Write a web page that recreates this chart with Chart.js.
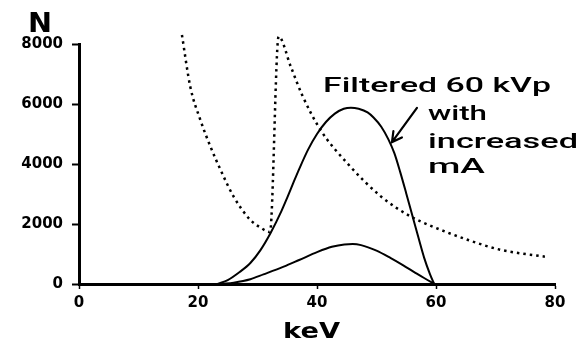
<!DOCTYPE html>
<html>
<head>
<meta charset="utf-8">
<script src="https://cdn.jsdelivr.net/npm/chart.js@4"></script>
<style>
  html, body { margin: 0; padding: 0; background: #fff; }
  #wrap { width: 587px; height: 345px; }
</style>
</head>
<body>
<div id="wrap"><canvas id="spectrum"></canvas></div>
<script>
// Energy spectrum chart

// Axis tick settings
const xTickStep = 20;
const yTickStep = 2000;
const xMin = 0, xMax = 80;
const yMin = 0, yMax = 8000;

// Filtered 60 kVp with increased mA (big solid curve)
const bigKeV = [23.3, 25, 27, 28.8, 30.5, 32.2, 34, 35, 36, 37, 38.5, 40, 41.5, 43, 44.5, 45.7, 47, 48.5, 49.5, 50.8, 52, 53, 54, 55, 56, 57, 58, 59, 59.7];
const bigN   = [0, 130, 400, 700, 1130, 1700, 2420, 2880, 3360, 3830, 4480, 5000, 5400, 5680, 5840, 5877, 5840, 5720, 5550, 5243, 4820, 4360, 3720, 3020, 2300, 1580, 880, 320, 0];

// Original filtered 60 kVp spectrum (small solid curve)
const smallKeV = [24, 26, 28.8, 31, 34.4, 37, 40.1, 42.5, 44.6, 46, 47.4, 50, 52.4, 54.5, 56.4, 58, 59.8];
const smallN   = [0, 45, 160, 320, 577, 800, 1070, 1240, 1320, 1330, 1295, 1110, 860, 620, 390, 200, 0];

// Attenuation curve with K-edge (dotted)
const edgeKeV = [17.3, 18.7, 20.4, 22.1, 23.8, 26, 28.8, 30.5, 32.1, 33.55, 35.6, 37.5, 40.6, 45.1, 50.8, 55.8, 59, 65.4, 71, 78.3];
const edgeN   = [8300, 6577, 5467, 4577, 3800, 2910, 2133, 1880, 1730, 8250, 7243, 6300, 5133, 4023, 2910, 2243, 1950, 1467, 1133, 910];

// Arrow pointing at the big curve (data coordinates)
const arrowFrom = { x: 56.8, y: 5870 };
const arrowTo   = { x: 52.6, y: 4730 };

function toPoints(xs, ys) {
    return xs.map(function(x, i) { return { x: x, y: ys[i] }; });
}

// Draw a text line stretched to a given width
function drawStretched(ctx, str, x, baseline, width, font) {
    ctx.font = font;
    const w = ctx.measureText(str).width;
    ctx.save();
    ctx.translate(x, baseline);
    ctx.scale(width / w, 1);
    ctx.fillText(str, 0, 0);
    ctx.restore();
}

// Labels and arrow
const labelsPlugin = {
    id: 'labels',
    afterDraw: function(chart) {
        const ctx = chart.ctx;
        const xs = chart.scales.x, ys = chart.scales.y;
        const noteFont = '500 20px Roboto';
        ctx.save();
        ctx.fillStyle = '#000';
        ctx.textAlign = 'left';
        ctx.textBaseline = 'alphabetic';
        drawStretched(ctx, 'N', 28, 32, 24, 'bold 27px "DejaVu Sans"');
        drawStretched(ctx, 'keV', 283, 338, 57, 'bold 22px "DejaVu Sans"');
        drawStretched(ctx, 'Filtered 60 kVp', 323, 92, 228, noteFont);
        drawStretched(ctx, 'with', 428, 120, 59, noteFont);
        drawStretched(ctx, 'increased', 428, 148, 150, noteFont);
        drawStretched(ctx, 'mA', 428, 173, 57, noteFont);

        // arrow
        const x1 = xs.getPixelForValue(arrowFrom.x), y1 = ys.getPixelForValue(arrowFrom.y);
        const x2 = xs.getPixelForValue(arrowTo.x), y2 = ys.getPixelForValue(arrowTo.y);
        const ang = Math.atan2(y2 - y1, x2 - x1);
        const head = 11;
        ctx.strokeStyle = '#000';
        ctx.lineWidth = 2.2;
        ctx.lineCap = 'round';
        ctx.beginPath();
        ctx.moveTo(x1, y1);
        ctx.lineTo(x2, y2);
        ctx.moveTo(x2 - head * Math.cos(ang - 0.5), y2 - head * Math.sin(ang - 0.5));
        ctx.lineTo(x2, y2);
        ctx.lineTo(x2 - head * Math.cos(ang + 0.5), y2 - head * Math.sin(ang + 0.5));
        ctx.stroke();
        ctx.restore();
    }
};

document.addEventListener('DOMContentLoaded', function() {
    const ctx = document.getElementById('spectrum').getContext('2d');

    const data = {
        datasets: [
            {
                label: 'Filtered 60 kVp with increased mA',
                data: toPoints(bigKeV, bigN),
                borderColor: '#000',
                borderWidth: 2,
                pointRadius: 0,
                cubicInterpolationMode: 'monotone',
                fill: false
            },
            {
                label: 'Filtered 60 kVp',
                data: toPoints(smallKeV, smallN),
                borderColor: '#000',
                borderWidth: 2,
                pointRadius: 0,
                cubicInterpolationMode: 'monotone',
                fill: false
            },
            {
                label: 'Attenuation',
                data: toPoints(edgeKeV, edgeN),
                borderColor: '#000',
                borderWidth: 2.5,
                borderDash: [2.5, 4],
                pointRadius: 0,
                cubicInterpolationMode: 'monotone',
                fill: false,
                clip: false
            }
        ]
    };

    const tickFont = { family: 'DejaVu Sans', size: 15, weight: 'bold' };

    const config = {
        type: 'line',
        data: data,
        options: {
            responsive: true,
            maintainAspectRatio: false,
            animation: false,
            layout: {
                padding: { left: 0, right: 32, top: 44, bottom: 0 }
            },
            plugins: {
                legend: { display: false },
                tooltip: { enabled: false }
            },
            scales: {
                x: {
                    type: 'linear',
                    min: xMin,
                    max: xMax,
                    afterFit: function(scale) { scale.height = 61; },
                    ticks: {
                        stepSize: xTickStep,
                        color: '#000',
                        padding: 5,
                        maxRotation: 0,
                        font: tickFont,
                        callback: function(value) { return String(value); }
                    },
                    grid: {
                        drawOnChartArea: false,
                        tickLength: 5,
                        tickWidth: 1.5,
                        tickColor: '#000'
                    },
                    border: { display: true, color: '#000', width: 3 }
                },
                y: {
                    min: yMin,
                    max: yMax,
                    afterFit: function(scale) { scale.width = 79; },
                    ticks: {
                        stepSize: yTickStep,
                        color: '#000',
                        padding: 9,
                        font: tickFont,
                        callback: function(value) { return String(value); }
                    },
                    grid: {
                        drawOnChartArea: false,
                        tickLength: 7,
                        tickWidth: 2,
                        tickColor: '#000'
                    },
                    border: { display: true, color: '#000', width: 3 }
                }
            }
        },
        plugins: [labelsPlugin]
    };

    new Chart(ctx, config);
});
</script>
</body>
</html>
